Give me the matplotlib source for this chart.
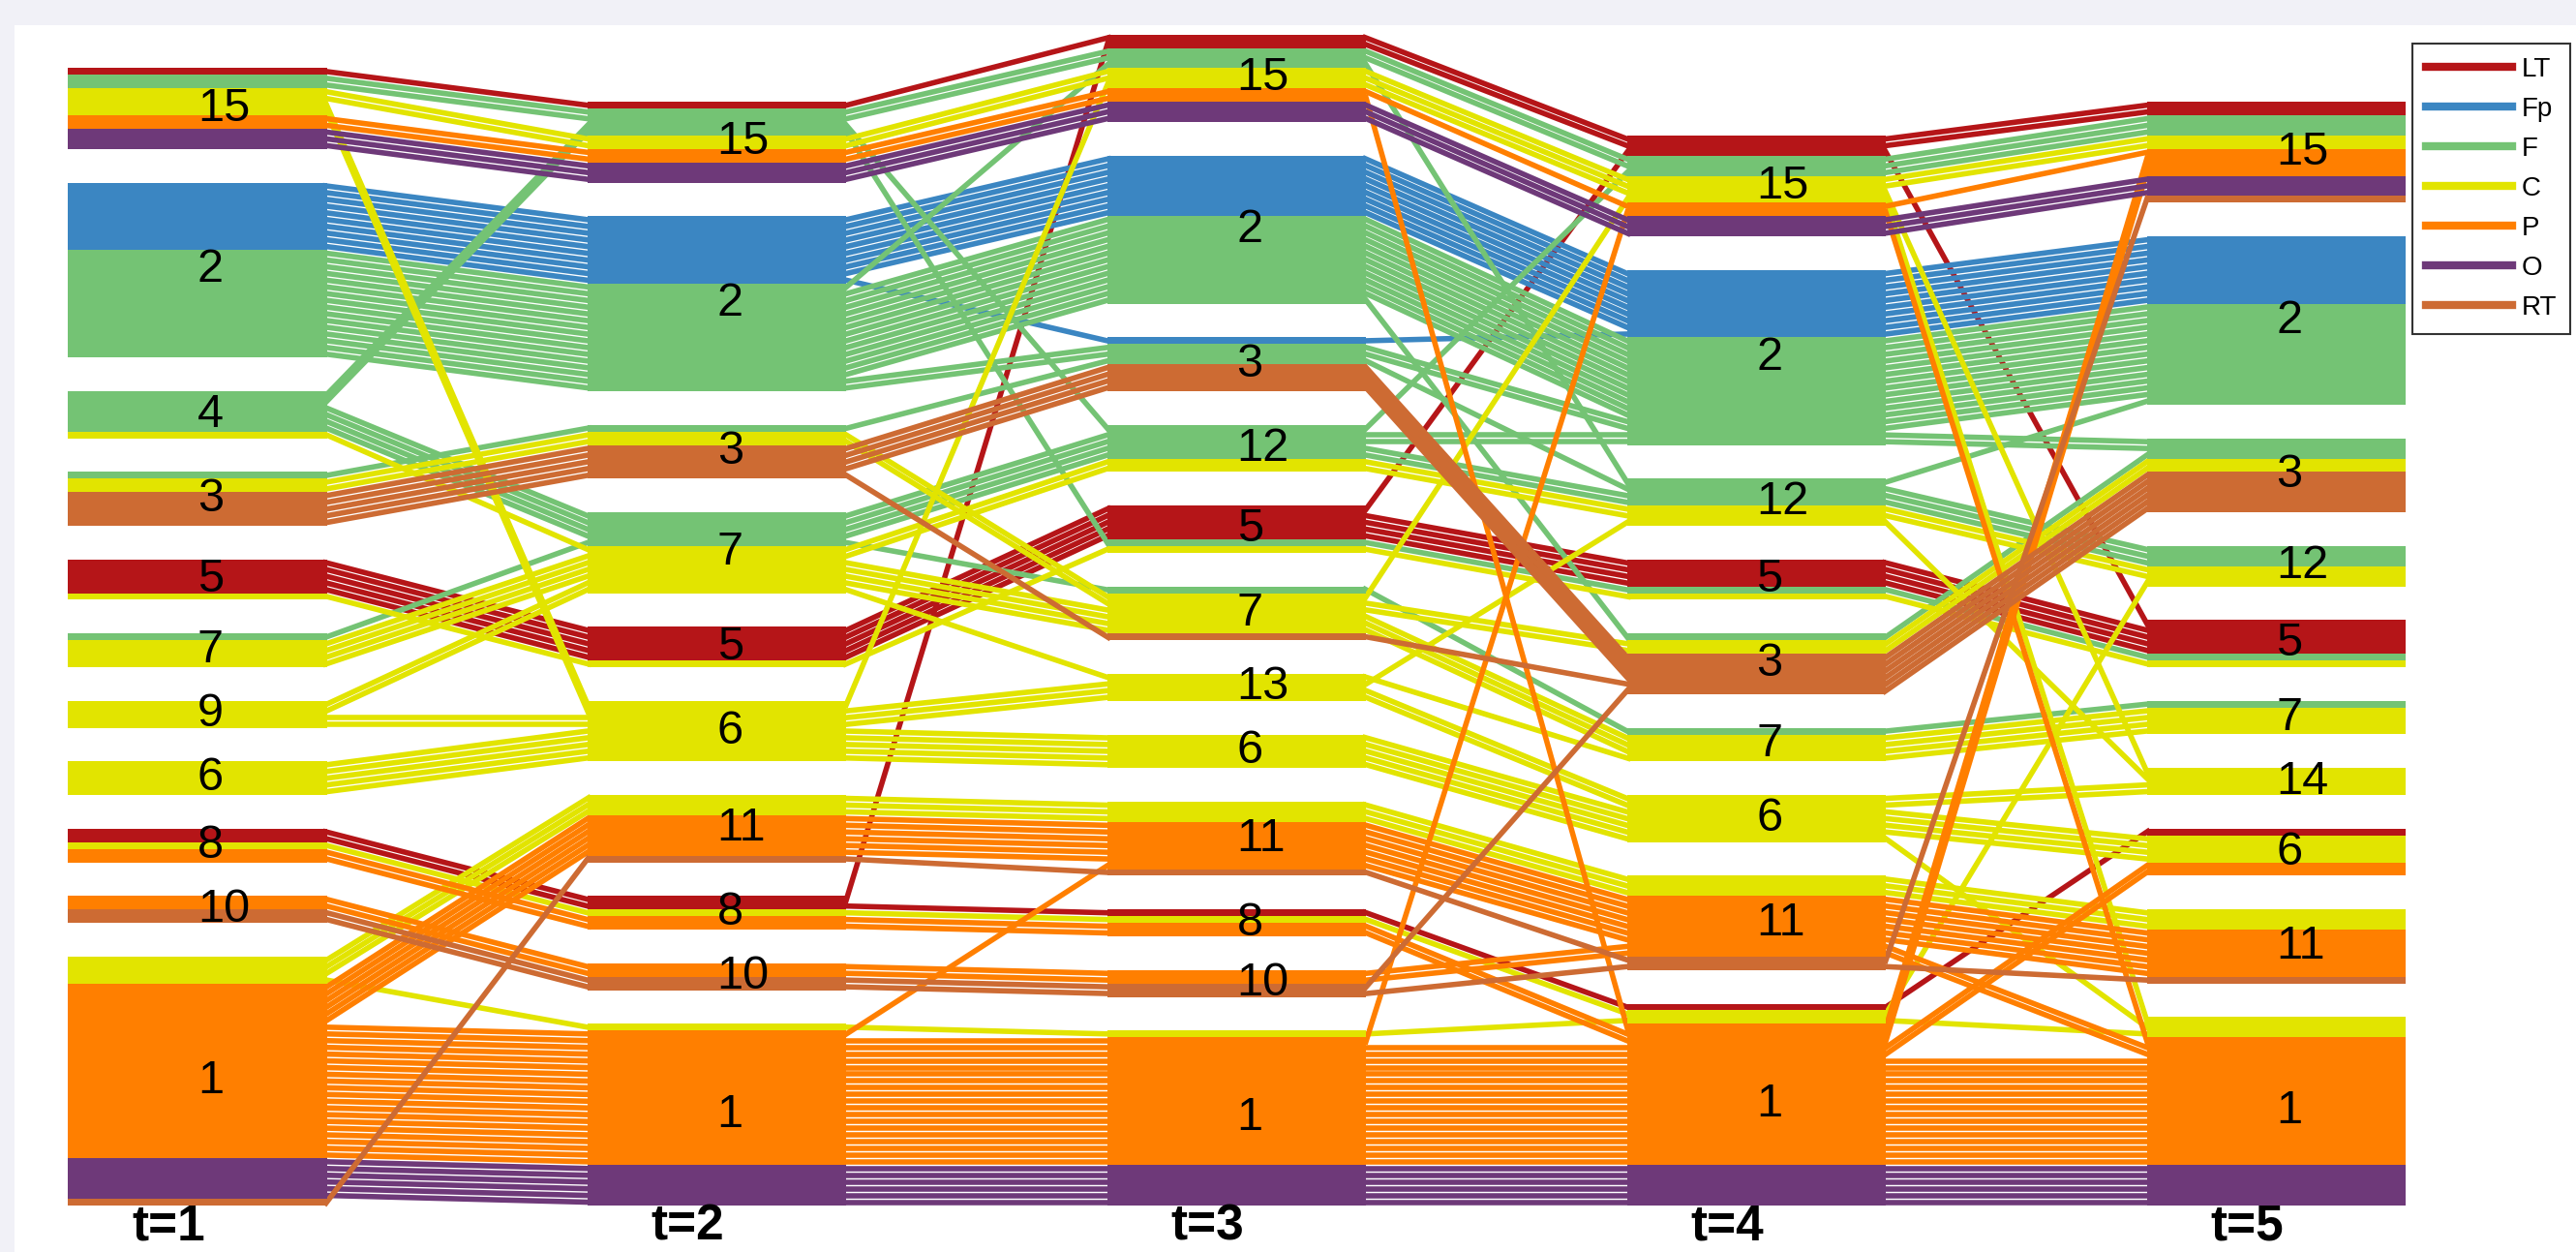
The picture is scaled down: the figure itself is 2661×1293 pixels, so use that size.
import matplotlib
matplotlib.use("Agg")
import matplotlib.pyplot as plt
from matplotlib.patches import Rectangle
from matplotlib.lines import Line2D

plt.rcParams['font.family'] = ['Liberation Sans', 'DejaVu Sans']

# categories and their colours
cats = ['LT', 'Fp', 'F', 'C', 'P', 'O', 'RT']
cat_colors = ['#b51518', '#3b86c2', '#74c374', '#e2e400', '#ff7f00', '#6e3979', '#cd6b33']
times = ['t=1', 't=2', 't=3', 't=4', 't=5']

# modules at each step, listed top to bottom
modules_t1 = [15, 2, 4, 3, 5, 7, 9, 6, 8, 10, 1]
modules_t2 = [15, 2, 3, 7, 5, 6, 11, 8, 10, 1]
modules_t3 = [15, 2, 3, 12, 5, 7, 13, 6, 11, 8, 10, 1]
modules_t4 = [15, 2, 12, 5, 3, 7, 6, 11, 1]
modules_t5 = [15, 2, 3, 12, 5, 7, 14, 6, 11, 1]
module_order = [modules_t1, modules_t2, modules_t3, modules_t4, modules_t5]

# module membership of each node over the five steps: (path, number of nodes)
LT_paths = [([15, 15, 15, 15, 15], 1), ([8, 8, 15, 15, 15], 1), ([5, 5, 5, 15, 5], 1),
            ([5, 5, 5, 5, 5], 4), ([8, 8, 8, 1, 6], 1)]
Fp_paths = [([2, 2, 2, 2, 2], 9), ([2, 2, 3, 2, 2], 1)]
F_paths = [([15, 15, 15, 15, 15], 2), ([4, 15, 12, 15, 15], 1), ([2, 2, 15, 12, 2], 1),
           ([2, 2, 2, 2, 2], 12), ([2, 2, 2, 3, 3], 1), ([2, 2, 3, 2, 2], 2),
           ([3, 3, 3, 12, 12], 1), ([4, 7, 12, 2, 3], 2), ([4, 7, 12, 12, 12], 2),
           ([4, 15, 5, 5, 5], 1), ([7, 7, 7, 7, 7], 1)]
C_paths = [([15, 15, 15, 15, 15], 2), ([15, 6, 15, 15, 14], 1), ([15, 6, 13, 12, 14], 1),
           ([9, 6, 13, 6, 14], 2), ([6, 6, 6, 6, 6], 4), ([6, 6, 6, 6, 1], 1),
           ([4, 7, 12, 12, 12], 1), ([7, 7, 12, 12, 12], 1), ([3, 3, 7, 15, 1], 1),
           ([3, 3, 7, 3, 3], 1), ([7, 7, 7, 3, 3], 1), ([7, 7, 7, 7, 7], 2),
           ([9, 7, 7, 7, 7], 1), ([9, 7, 13, 7, 7], 1), ([5, 5, 5, 5, 5], 1),
           ([1, 11, 11, 11, 11], 3), ([8, 8, 8, 1, 12], 1), ([1, 1, 1, 1, 1], 1)]
P_paths = [([15, 15, 15, 15, 15], 1), ([15, 15, 15, 1, 15], 1), ([8, 8, 8, 1, 15], 2),
           ([10, 10, 10, 11, 1], 2), ([1, 11, 11, 11, 11], 6), ([1, 1, 11, 11, 11], 1),
           ([1, 1, 1, 15, 1], 1), ([1, 1, 1, 1, 6], 2), ([1, 1, 1, 1, 1], 16)]
O_paths = [([15, 15, 15, 15, 15], 3), ([1, 1, 1, 1, 1], 6)]
RT_paths = [([3, 3, 3, 3, 3], 4), ([3, 3, 7, 3, 3], 1), ([10, 10, 10, 3, 3], 1),
            ([10, 10, 10, 11, 11], 1), ([1, 11, 11, 11, 15], 1)]
all_paths = [LT_paths, Fp_paths, F_paths, C_paths, P_paths, O_paths, RT_paths]

# geometry in pixels
W, H = 2661, 1293
bottom = 1245.0
unit = 6.95
gap = 34.75
col_left = 70.0
col_step = 536.9
col_w = 267.5
flow_lw = 0.8 * unit * 72 / 100   # points

nodes = []
for ci, plist in enumerate(all_paths):
    for path, n in plist:
        for _ in range(n):
            nodes.append((ci, path))
N = len(nodes)

rank = [{m: i for i, m in enumerate(mo)} for mo in module_order]

# node top position at each step
ypos = [[0.0] * 5 for _ in range(N)]
blocks = []  # (t, module, top, [(cat, count)])
for t in range(5):
    mods = module_order[t]
    total = N * unit + (len(mods) - 1) * gap
    y = bottom - total
    for m in mods:
        members = [i for i in range(N) if nodes[i][1][t] == m]
        members.sort(key=lambda i: (nodes[i][0],
                                    rank[t - 1][nodes[i][1][t - 1]] if t > 0 else 0,
                                    rank[t + 1][nodes[i][1][t + 1]] if t < 4 else 0))
        top = y
        segs = []
        for i in members:
            ypos[i][t] = y
            y += unit
            if segs and segs[-1][0] == nodes[i][0]:
                segs[-1][1] += 1
            else:
                segs.append([nodes[i][0], 1])
        blocks.append((t, m, top, segs))
        y += gap

fig = plt.figure(figsize=(W / 100, H / 100), dpi=100, facecolor='#f1f1f7')
ax = fig.add_axes([15 / W, 0, 1 - 15 / W, 1 - 25.7 / H])
ax.set_xlim(15, W)
ax.set_ylim(H, 25.7)
ax.set_facecolor('white')
ax.set_xticks([])
ax.set_yticks([])
for s in ax.spines.values():
    s.set_visible(False)

# flows between consecutive steps, one line per node
ext = 4.0
for i, (ci, path) in enumerate(nodes):
    for t in range(4):
        x0 = col_left + t * col_step + col_w
        x1 = col_left + (t + 1) * col_step
        y0 = ypos[i][t] + unit / 2
        y1 = ypos[i][t + 1] + unit / 2
        dx, dy = x1 - x0, y1 - y0
        d = (dx * dx + dy * dy) ** 0.5
        ex, ey = dx / d * ext, dy / d * ext
        ax.plot([x0 - ex, x1 + ex], [y0 - ey, y1 + ey], color=cat_colors[ci],
                lw=flow_lw, solid_capstyle='butt')

# module blocks and their labels
for t, m, top, segs in blocks:
    x = col_left + t * col_step
    y = top
    for ci, cnt in segs:
        ax.add_patch(Rectangle((x, y), col_w, cnt * unit, facecolor=cat_colors[ci],
                               edgecolor='none', lw=0, zorder=3))
        y += cnt * unit
    ax.text(x + col_w / 2, (top + y) / 2, str(m), ha='left', va='center', fontsize=35,
            zorder=4)

for t, lab in enumerate(times):
    ax.text(col_left + t * col_step + col_w / 2 - 30, 1292, lab, ha='center', va='bottom',
            fontsize=37, fontweight='bold')

handles = [Line2D([], [], color=c, lw=6) for c in cat_colors]
leg = ax.legend(handles, cats, loc='upper right', bbox_to_anchor=(2655 / W, 1 - 45 / H),
                bbox_transform=fig.transFigure, fontsize=20, frameon=True, fancybox=False,
                handlelength=3.2, handletextpad=0.35, labelspacing=0.54, borderpad=0.5,
                borderaxespad=0)
leg.get_frame().set_edgecolor('black')
leg.get_frame().set_linewidth(1.5)
leg.set_zorder(5)

fig.savefig('out.png', dpi=100, facecolor=fig.get_facecolor())
